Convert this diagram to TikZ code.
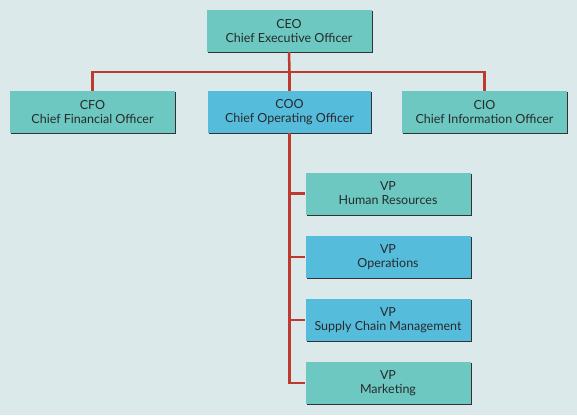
\documentclass[tikz,border=0pt]{standalone}
\usepackage{fontspec}
\setmainfont{Lato}
\usetikzlibrary{shadows}
\definecolor{bg}{RGB}{220,233,235}
\definecolor{teal}{RGB}{108,200,192}
\definecolor{sky}{RGB}{86,188,219}
\definecolor{redline}{RGB}{190,58,46}
\definecolor{txt}{RGB}{40,42,45}
\begin{document}
\begin{tikzpicture}[x=1pt,y=-1pt,
  box/.style={draw=none, minimum height=42pt, minimum width=165pt, align=center, inner sep=2pt,
    font=\fontsize{12.5}{14}\selectfont, text=txt,
    drop shadow={shadow xshift=1.2pt, shadow yshift=-1.2pt, fill=black!80, opacity=1}},
  tealbox/.style={box, fill=teal},
  skybox/.style={box, fill=sky},
  link/.style={draw=redline, line width=2.5pt}]
\fill[bg] (0,0) rectangle (577,415);
\useasboundingbox (0,0) rectangle (577,415);
\node[tealbox] (ceo) at (289,31) {CEO\\Chief Executive Officer};
\node[tealbox] (cfo) at (92.5,112) {CFO\\Chief Financial Officer};
\node[skybox, minimum width=163pt] (coo) at (289.5,112) {COO\\Chief Operating Officer};
\node[tealbox] (cio) at (484.5,112) {CIO\\Chief Information Officer};
\node[tealbox] (hr) at (388,193.5) {VP\\Human Resources};
\node[skybox] (ops) at (388,257) {VP\\Operations};
\node[skybox] (scm) at (388,320) {VP\\Supply Chain Management};
\node[tealbox] (mkt) at (388,383) {VP\\Marketing};
\coordinate (j) at (289.5,72);
\draw[link] (ceo.south) -- (j);
\draw[link] (j) -| (cfo.north);
\draw[link] (j) -| (cio.north);
\draw[link] (j) -- (coo.north);
\draw[link] (coo.south) |- (mkt.west);
\draw[link] (coo.south) |- (hr.west);
\draw[link] (coo.south) |- (ops.west);
\draw[link] (coo.south) |- (scm.west);
\end{tikzpicture}
\end{document}
